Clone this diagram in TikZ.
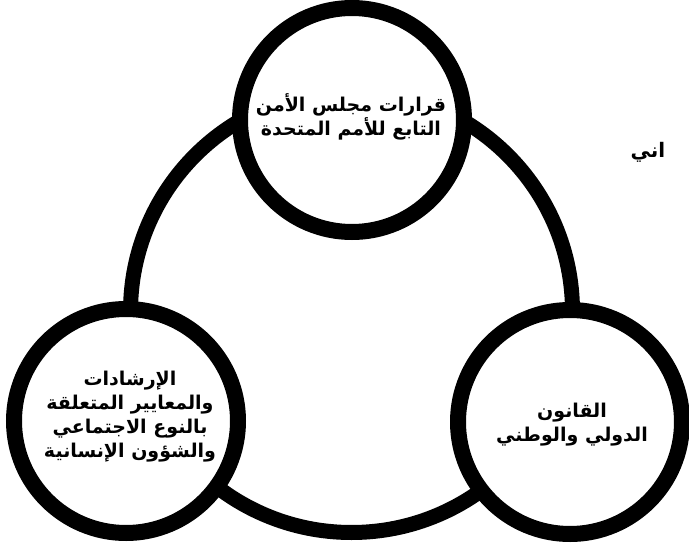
\documentclass[tikz,border=0pt]{standalone}
\usepackage{fontspec}
\newfontfamily\arabicfont[Script=Arabic]{DejaVu Sans}
\TeXXeTstate=1
\begin{document}
\begin{tikzpicture}[x=1pt,y=-1pt,
  ringline/.style={line width=15pt, draw=black},
  bubble/.style={circle, draw=black, fill=white, line width=16pt, minimum size=224pt, inner sep=0pt},
  label/.style={align=center, text=black, font=\arabicfont\bfseries\fontsize{19}{24}\selectfont}]
\useasboundingbox (0,0) rectangle (689,546);
\fill[white] (0,0) rectangle (689,546);
\coordinate (rc) at (351.5,311.5);
\draw[ringline] (rc) circle[radius=221];
\node[bubble] (top) at (352,120) {};
\node[bubble] (left) at (126,421) {};
\node[bubble] (right) at (570,422) {};
\node[label] (toptext) at (351,117) {\beginR قرارات مجلس الأمن\endR\\\beginR التابع للأمم المتحدة\endR};
\node[label] (lefttext) at (130,417) {\beginR الإرشادات\endR\\\beginR والمعايير المتعلقة\endR\\\beginR بالنوع الاجتماعي\endR\\\beginR والشؤون الإنسانية\endR};
\node[label] (righttext) at (572,425) {\beginR القانون\endR\\\beginR الدولي والوطني\endR};
\node[label, anchor=west, font=\arabicfont\bfseries\fontsize{20}{24}\selectfont] (cut) at (627,152) {\beginR اني\endR};
\end{tikzpicture}
\end{document}
